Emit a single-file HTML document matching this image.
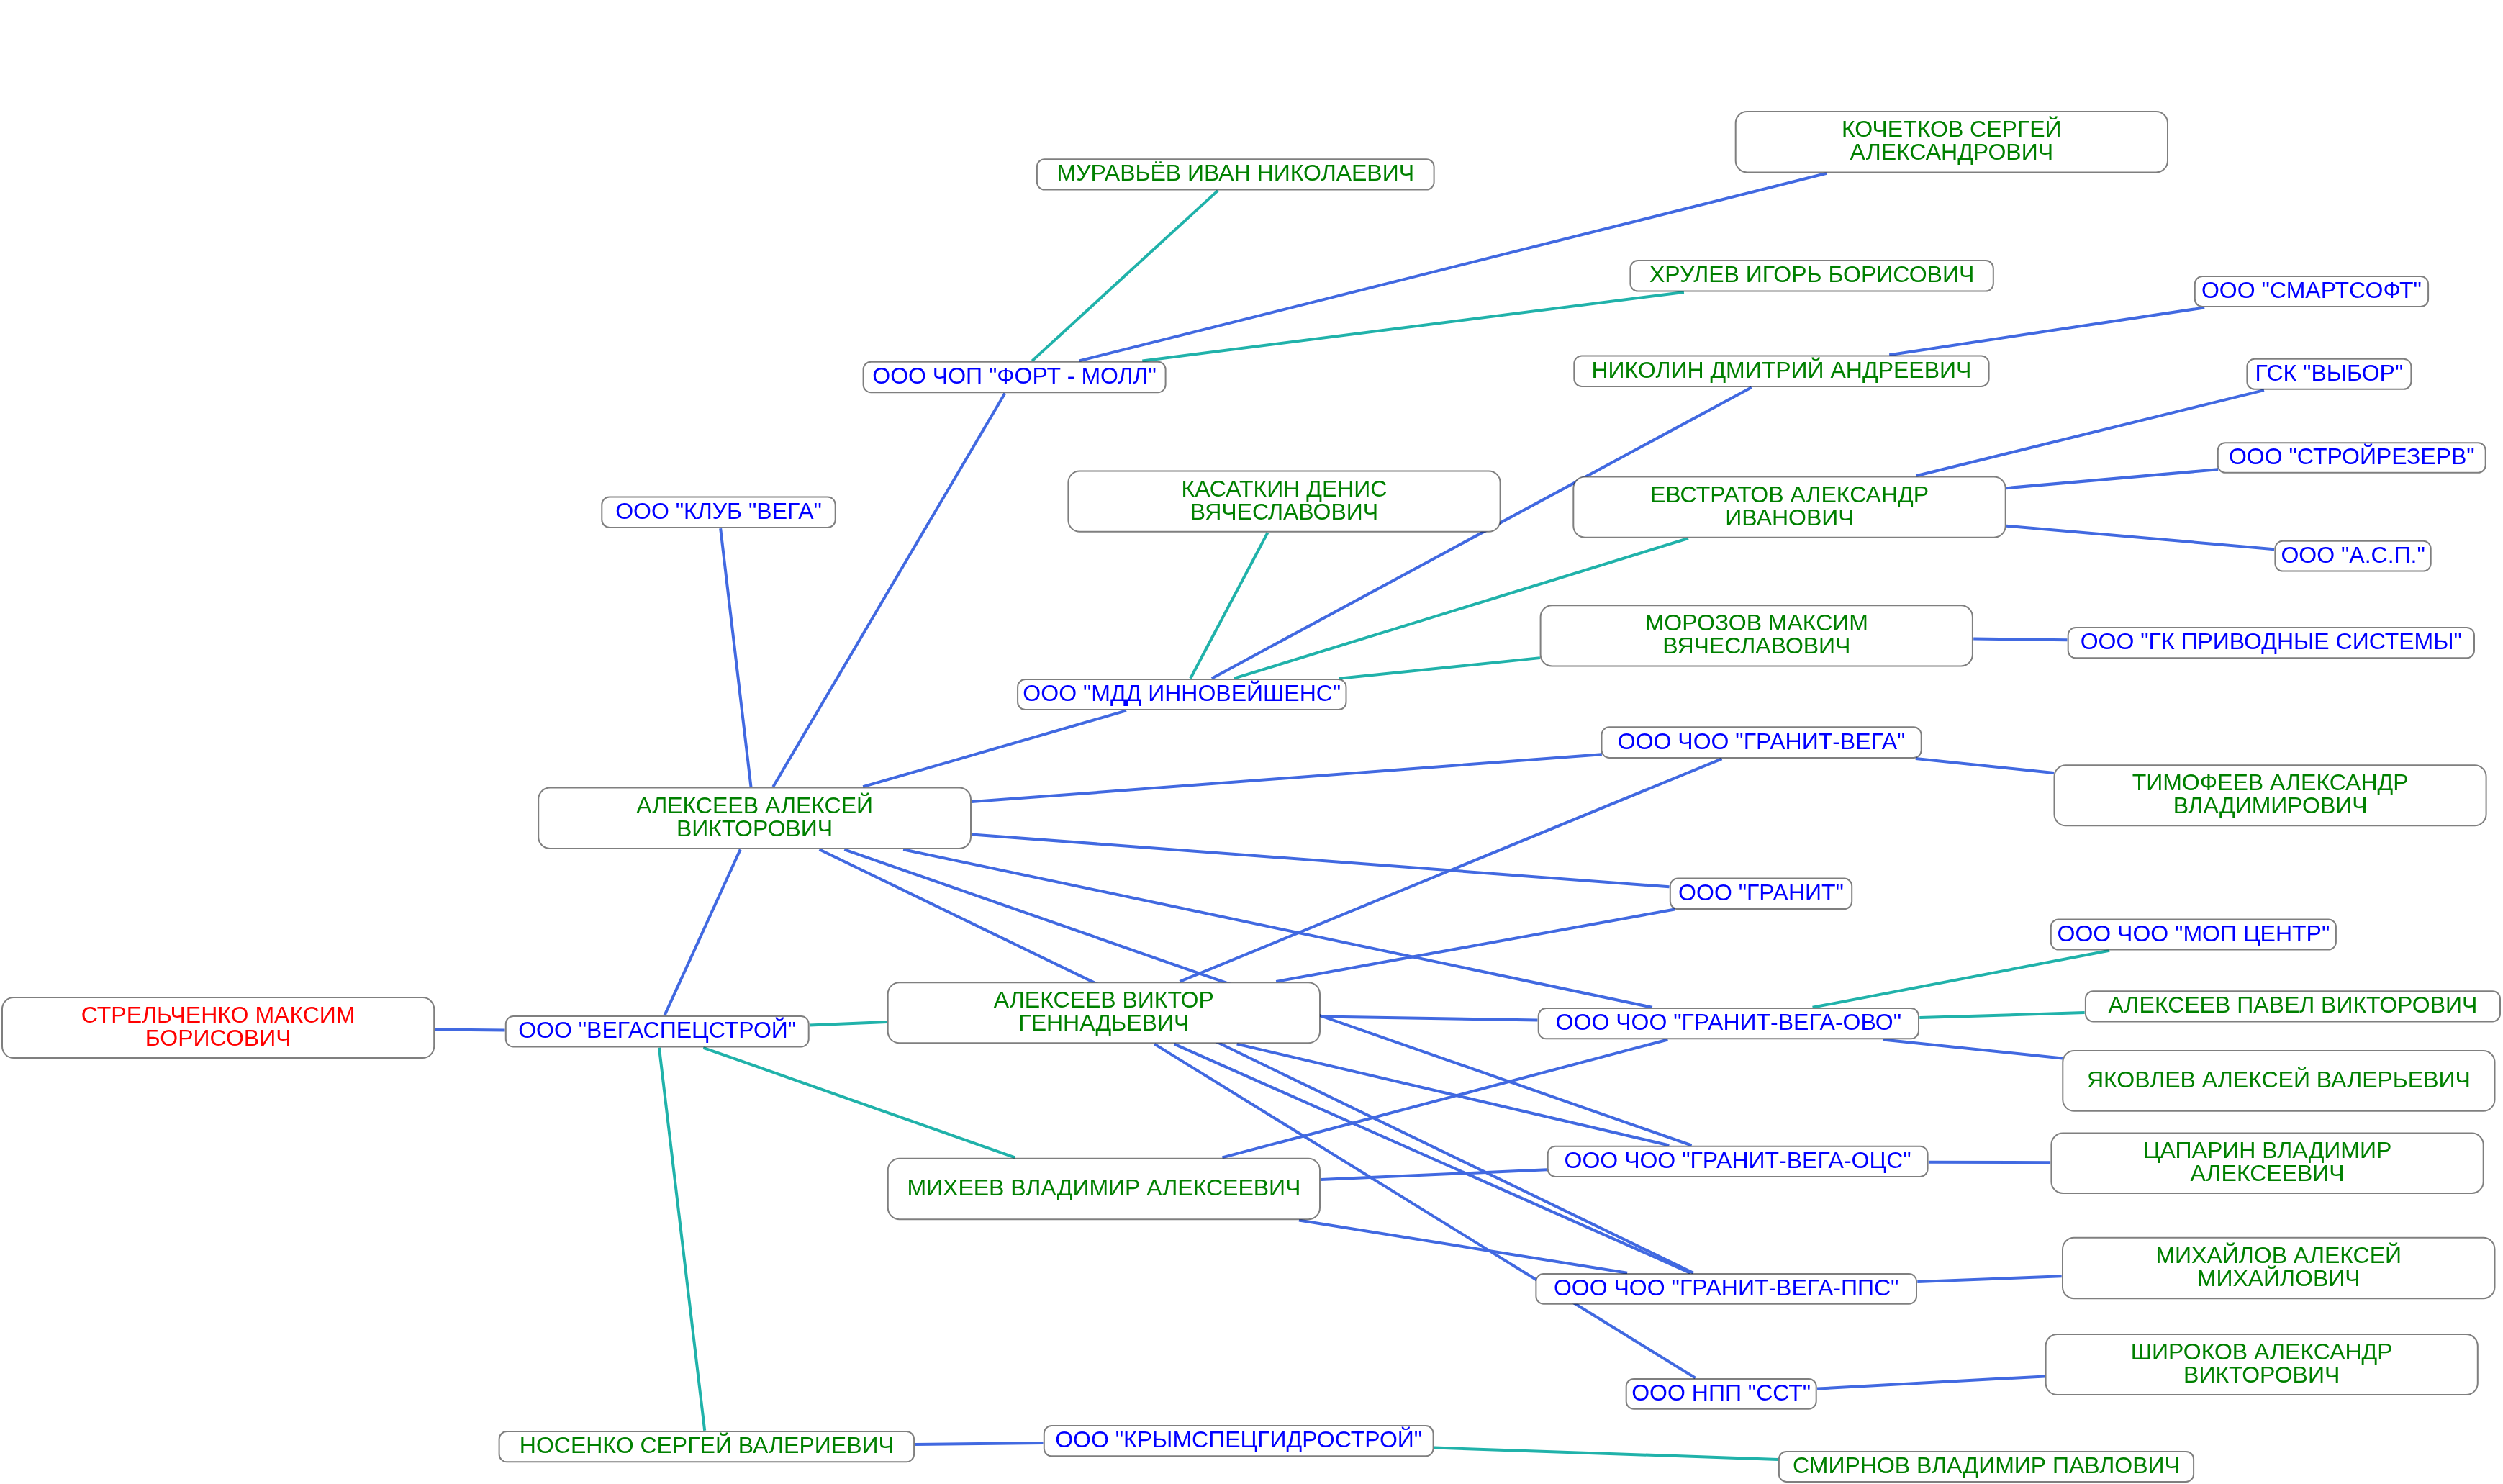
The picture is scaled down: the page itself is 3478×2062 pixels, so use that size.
<!DOCTYPE html><html><head><meta charset="utf-8"><style>html,body{margin:0;padding:0;background:#fff;overflow:hidden}svg{display:block;will-change:transform}text{font-family:"Liberation Sans",sans-serif;font-size:32px}</style></head><body>
<svg width="3478" height="2062" viewBox="0 0 3478 2062">
<rect width="3478" height="2062" fill="#fff"/>
<line x1="604.50" y1="1430.62" x2="701.50" y2="1431.45" stroke="#4169E1" stroke-width="4"/>
<line x1="923.54" y1="1410.70" x2="1028.72" y2="1180.30" stroke="#4169E1" stroke-width="4"/>
<line x1="1125.00" y1="1424.38" x2="1232.40" y2="1419.88" stroke="#20B2AA" stroke-width="4"/>
<line x1="977.24" y1="1455.80" x2="1410.31" y2="1608.40" stroke="#20B2AA" stroke-width="4"/>
<line x1="915.93" y1="1455.80" x2="979.19" y2="1987.80" stroke="#20B2AA" stroke-width="4"/>
<line x1="1271.40" y1="2007.04" x2="1449.50" y2="2005.12" stroke="#4169E1" stroke-width="4"/>
<line x1="1992.90" y1="2011.54" x2="2470.60" y2="2027.95" stroke="#20B2AA" stroke-width="4"/>
<line x1="1043.47" y1="1093.20" x2="1001.15" y2="734.20" stroke="#4169E1" stroke-width="4"/>
<line x1="1074.26" y1="1093.20" x2="1396.32" y2="546.50" stroke="#4169E1" stroke-width="4"/>
<line x1="1199.19" y1="1093.20" x2="1565.02" y2="987.40" stroke="#4169E1" stroke-width="4"/>
<line x1="1350.30" y1="1114.08" x2="2225.80" y2="1048.31" stroke="#4169E1" stroke-width="4"/>
<line x1="1350.30" y1="1159.42" x2="2319.50" y2="1232.27" stroke="#4169E1" stroke-width="4"/>
<line x1="1255.10" y1="1180.30" x2="2295.88" y2="1399.80" stroke="#4169E1" stroke-width="4"/>
<line x1="1173.29" y1="1180.30" x2="2350.66" y2="1591.50" stroke="#4169E1" stroke-width="4"/>
<line x1="1138.48" y1="1180.30" x2="2353.09" y2="1768.80" stroke="#4169E1" stroke-width="4"/>
<line x1="1434.20" y1="501.40" x2="1692.20" y2="264.90" stroke="#20B2AA" stroke-width="4"/>
<line x1="1499.49" y1="501.40" x2="2538.26" y2="240.80" stroke="#4169E1" stroke-width="4"/>
<line x1="1587.31" y1="501.40" x2="2339.89" y2="405.90" stroke="#20B2AA" stroke-width="4"/>
<line x1="1654.14" y1="942.70" x2="1761.46" y2="740.10" stroke="#20B2AA" stroke-width="4"/>
<line x1="1683.74" y1="942.70" x2="2433.73" y2="538.20" stroke="#4169E1" stroke-width="4"/>
<line x1="1714.76" y1="942.70" x2="2345.96" y2="748.00" stroke="#20B2AA" stroke-width="4"/>
<line x1="1860.58" y1="942.72" x2="2139.96" y2="914.13" stroke="#20B2AA" stroke-width="4"/>
<line x1="2625.21" y1="493.20" x2="3063.19" y2="427.40" stroke="#4169E1" stroke-width="4"/>
<line x1="2662.36" y1="661.30" x2="3145.93" y2="542.10" stroke="#4169E1" stroke-width="4"/>
<line x1="2787.99" y1="678.16" x2="3082.10" y2="652.31" stroke="#4169E1" stroke-width="4"/>
<line x1="2788.00" y1="730.83" x2="3160.10" y2="763.15" stroke="#4169E1" stroke-width="4"/>
<line x1="2742.20" y1="887.48" x2="2872.40" y2="889.27" stroke="#4169E1" stroke-width="4"/>
<line x1="2661.87" y1="1053.96" x2="2854.01" y2="1073.96" stroke="#4169E1" stroke-width="4"/>
<line x1="1639.31" y1="1363.90" x2="2392.50" y2="1054.30" stroke="#4169E1" stroke-width="4"/>
<line x1="1773.18" y1="1363.90" x2="2327.06" y2="1263.57" stroke="#4169E1" stroke-width="4"/>
<line x1="1835.30" y1="1412.42" x2="2136.40" y2="1417.59" stroke="#4169E1" stroke-width="4"/>
<line x1="1718.66" y1="1450.60" x2="2319.37" y2="1591.50" stroke="#4169E1" stroke-width="4"/>
<line x1="1631.57" y1="1450.60" x2="2348.88" y2="1768.80" stroke="#4169E1" stroke-width="4"/>
<line x1="1604.08" y1="1450.60" x2="2355.74" y2="1914.60" stroke="#4169E1" stroke-width="4"/>
<line x1="1698.39" y1="1608.40" x2="2317.43" y2="1444.50" stroke="#4169E1" stroke-width="4"/>
<line x1="1835.30" y1="1638.91" x2="2149.44" y2="1625.32" stroke="#4169E1" stroke-width="4"/>
<line x1="1804.95" y1="1695.50" x2="2261.15" y2="1768.80" stroke="#4169E1" stroke-width="4"/>
<line x1="2518.57" y1="1399.80" x2="2931.13" y2="1320.80" stroke="#20B2AA" stroke-width="4"/>
<line x1="2667.30" y1="1414.08" x2="2896.60" y2="1407.10" stroke="#20B2AA" stroke-width="4"/>
<line x1="2616.12" y1="1444.50" x2="2865.88" y2="1470.55" stroke="#4169E1" stroke-width="4"/>
<line x1="2679.90" y1="1614.72" x2="2849.10" y2="1615.27" stroke="#4169E1" stroke-width="4"/>
<line x1="2664.30" y1="1780.90" x2="2864.70" y2="1773.35" stroke="#4169E1" stroke-width="4"/>
<line x1="2525.00" y1="1929.57" x2="2841.30" y2="1912.40" stroke="#4169E1" stroke-width="4"/>
<rect x="3.0" y="1386.0" width="600.2" height="84.1" rx="16.00" fill="#fff" stroke="rgba(0,0,0,0.5)" stroke-width="2"/>
<text x="303.1" y="1421.0" fill="#FF0000" text-anchor="middle">СТРЕЛЬЧЕНКО МАКСИМ</text>
<text x="303.1" y="1453.0" fill="#FF0000" text-anchor="middle">БОРИСОВИЧ</text>
<rect x="702.8" y="1412.0" width="420.9" height="42.5" rx="10.62" fill="#fff" stroke="rgba(0,0,0,0.5)" stroke-width="2"/>
<text x="913.2" y="1442.2" fill="#0000FF" text-anchor="middle">ООО &quot;ВЕГАСПЕЦСТРОЙ&quot;</text>
<rect x="693.6" y="1989.1" width="576.5" height="42.1" rx="10.53" fill="#fff" stroke="rgba(0,0,0,0.5)" stroke-width="2"/>
<text x="981.8" y="2019.2" fill="#008000" text-anchor="middle">НОСЕНКО СЕРГЕЙ ВАЛЕРИЕВИЧ</text>
<rect x="1450.8" y="1981.1" width="540.8" height="42.2" rx="10.55" fill="#fff" stroke="rgba(0,0,0,0.5)" stroke-width="2"/>
<text x="1721.2" y="2011.2" fill="#0000FF" text-anchor="middle">ООО &quot;КРЫМСПЕЦГИДРОСТРОЙ&quot;</text>
<rect x="2471.9" y="2016.9" width="576.2" height="42.0" rx="10.50" fill="#fff" stroke="rgba(0,0,0,0.5)" stroke-width="2"/>
<text x="2760.0" y="2046.9" fill="#008000" text-anchor="middle">СМИРНОВ ВЛАДИМИР ПАВЛОВИЧ</text>
<rect x="748.2" y="1094.5" width="600.8" height="84.5" rx="16.00" fill="#fff" stroke="rgba(0,0,0,0.5)" stroke-width="2"/>
<text x="1048.6" y="1129.8" fill="#008000" text-anchor="middle">АЛЕКСЕЕВ АЛЕКСЕЙ</text>
<text x="1048.6" y="1161.8" fill="#008000" text-anchor="middle">ВИКТОРОВИЧ</text>
<rect x="836.3" y="690.5" width="324.4" height="42.4" rx="10.60" fill="#fff" stroke="rgba(0,0,0,0.5)" stroke-width="2"/>
<text x="998.5" y="720.7" fill="#0000FF" text-anchor="middle">ООО &quot;КЛУБ &quot;ВЕГА&quot;</text>
<rect x="1199.6" y="502.7" width="420.0" height="42.5" rx="10.63" fill="#fff" stroke="rgba(0,0,0,0.5)" stroke-width="2"/>
<text x="1409.6" y="533.0" fill="#0000FF" text-anchor="middle">ООО ЧОП &quot;ФОРТ - МОЛЛ&quot;</text>
<rect x="1440.9" y="221.2" width="551.7" height="42.4" rx="10.60" fill="#fff" stroke="rgba(0,0,0,0.5)" stroke-width="2"/>
<text x="1716.8" y="251.4" fill="#008000" text-anchor="middle">МУРАВЬЁВ ИВАН НИКОЛАЕВИЧ</text>
<rect x="2411.7" y="155.0" width="600.3" height="84.5" rx="16.00" fill="#fff" stroke="rgba(0,0,0,0.5)" stroke-width="2"/>
<text x="2711.8" y="190.2" fill="#008000" text-anchor="middle">КОЧЕТКОВ СЕРГЕЙ</text>
<text x="2711.8" y="222.2" fill="#008000" text-anchor="middle">АЛЕКСАНДРОВИЧ</text>
<rect x="2265.4" y="362.1" width="504.4" height="42.5" rx="10.62" fill="#fff" stroke="rgba(0,0,0,0.5)" stroke-width="2"/>
<text x="2517.6" y="392.4" fill="#008000" text-anchor="middle">ХРУЛЕВ ИГОРЬ БОРИСОВИЧ</text>
<rect x="3049.8" y="384.0" width="324.3" height="42.1" rx="10.53" fill="#fff" stroke="rgba(0,0,0,0.5)" stroke-width="2"/>
<text x="3211.9" y="414.1" fill="#0000FF" text-anchor="middle">ООО &quot;СМАРТСОФТ&quot;</text>
<rect x="2187.3" y="494.5" width="576.3" height="42.4" rx="10.60" fill="#fff" stroke="rgba(0,0,0,0.5)" stroke-width="2"/>
<text x="2475.4" y="524.7" fill="#008000" text-anchor="middle">НИКОЛИН ДМИТРИЙ АНДРЕЕВИЧ</text>
<rect x="3122.4" y="498.8" width="228.0" height="42.0" rx="10.50" fill="#fff" stroke="rgba(0,0,0,0.5)" stroke-width="2"/>
<text x="3236.4" y="528.8" fill="#0000FF" text-anchor="middle">ГСК &quot;ВЫБОР&quot;</text>
<rect x="1484.4" y="654.4" width="600.2" height="84.4" rx="16.00" fill="#fff" stroke="rgba(0,0,0,0.5)" stroke-width="2"/>
<text x="1784.5" y="689.6" fill="#008000" text-anchor="middle">КАСАТКИН ДЕНИС</text>
<text x="1784.5" y="721.6" fill="#008000" text-anchor="middle">ВЯЧЕСЛАВОВИЧ</text>
<rect x="2186.3" y="662.6" width="600.4" height="84.1" rx="16.00" fill="#fff" stroke="rgba(0,0,0,0.5)" stroke-width="2"/>
<text x="2486.5" y="697.7" fill="#008000" text-anchor="middle">ЕВСТРАТОВ АЛЕКСАНДР</text>
<text x="2486.5" y="729.7" fill="#008000" text-anchor="middle">ИВАНОВИЧ</text>
<rect x="3081.8" y="615.2" width="371.9" height="41.6" rx="10.40" fill="#fff" stroke="rgba(0,0,0,0.5)" stroke-width="2"/>
<text x="3267.8" y="645.0" fill="#0000FF" text-anchor="middle">ООО &quot;СТРОЙРЕЗЕРВ&quot;</text>
<rect x="3161.4" y="751.8" width="216.3" height="41.7" rx="10.43" fill="#fff" stroke="rgba(0,0,0,0.5)" stroke-width="2"/>
<text x="3269.6" y="781.6" fill="#0000FF" text-anchor="middle">ООО &quot;А.С.П.&quot;</text>
<rect x="2140.6" y="841.3" width="600.3" height="84.1" rx="16.00" fill="#fff" stroke="rgba(0,0,0,0.5)" stroke-width="2"/>
<text x="2440.8" y="876.3" fill="#008000" text-anchor="middle">МОРОЗОВ МАКСИМ</text>
<text x="2440.8" y="908.3" fill="#008000" text-anchor="middle">ВЯЧЕСЛАВОВИЧ</text>
<rect x="2873.7" y="872.0" width="564.3" height="42.3" rx="10.57" fill="#fff" stroke="rgba(0,0,0,0.5)" stroke-width="2"/>
<text x="3155.8" y="902.1" fill="#0000FF" text-anchor="middle">ООО &quot;ГК ПРИВОДНЫЕ СИСТЕМЫ&quot;</text>
<rect x="1414.1" y="944.0" width="456.4" height="42.1" rx="10.53" fill="#fff" stroke="rgba(0,0,0,0.5)" stroke-width="2"/>
<text x="1642.3" y="974.0" fill="#0000FF" text-anchor="middle">ООО &quot;МДД ИННОВЕЙШЕНС&quot;</text>
<rect x="2225.5" y="1010.3" width="444.2" height="42.7" rx="10.68" fill="#fff" stroke="rgba(0,0,0,0.5)" stroke-width="2"/>
<text x="2447.6" y="1040.7" fill="#0000FF" text-anchor="middle">ООО ЧОО &quot;ГРАНИТ-ВЕГА&quot;</text>
<rect x="2854.5" y="1063.2" width="600.1" height="84.1" rx="16.00" fill="#fff" stroke="rgba(0,0,0,0.5)" stroke-width="2"/>
<text x="3154.6" y="1098.2" fill="#008000" text-anchor="middle">ТИМОФЕЕВ АЛЕКСАНДР</text>
<text x="3154.6" y="1130.2" fill="#008000" text-anchor="middle">ВЛАДИМИРОВИЧ</text>
<rect x="2320.8" y="1220.6" width="252.4" height="42.5" rx="10.62" fill="#fff" stroke="rgba(0,0,0,0.5)" stroke-width="2"/>
<text x="2447.0" y="1250.8" fill="#0000FF" text-anchor="middle">ООО &quot;ГРАНИТ&quot;</text>
<rect x="2849.8" y="1277.4" width="396.1" height="42.1" rx="10.52" fill="#fff" stroke="rgba(0,0,0,0.5)" stroke-width="2"/>
<text x="3047.9" y="1307.5" fill="#0000FF" text-anchor="middle">ООО ЧОО &quot;МОП ЦЕНТР&quot;</text>
<rect x="1233.7" y="1365.2" width="600.3" height="84.1" rx="16.00" fill="#fff" stroke="rgba(0,0,0,0.5)" stroke-width="2"/>
<text x="1533.8" y="1400.2" fill="#008000" text-anchor="middle">АЛЕКСЕЕВ ВИКТОР</text>
<text x="1533.8" y="1432.2" fill="#008000" text-anchor="middle">ГЕННАДЬЕВИЧ</text>
<rect x="2137.7" y="1401.1" width="528.3" height="42.1" rx="10.53" fill="#fff" stroke="rgba(0,0,0,0.5)" stroke-width="2"/>
<text x="2401.8" y="1431.2" fill="#0000FF" text-anchor="middle">ООО ЧОО &quot;ГРАНИТ-ВЕГА-ОВО&quot;</text>
<rect x="2897.9" y="1377.2" width="576.1" height="42.2" rx="10.55" fill="#fff" stroke="rgba(0,0,0,0.5)" stroke-width="2"/>
<text x="3185.9" y="1407.3" fill="#008000" text-anchor="middle">АЛЕКСЕЕВ ПАВЕЛ ВИКТОРОВИЧ</text>
<rect x="2866.3" y="1460.0" width="600.2" height="83.8" rx="16.00" fill="#fff" stroke="rgba(0,0,0,0.5)" stroke-width="2"/>
<text x="3166.4" y="1510.9" fill="#008000" text-anchor="middle">ЯКОВЛЕВ АЛЕКСЕЙ ВАЛЕРЬЕВИЧ</text>
<rect x="1233.8" y="1609.7" width="600.2" height="84.5" rx="16.00" fill="#fff" stroke="rgba(0,0,0,0.5)" stroke-width="2"/>
<text x="1533.9" y="1661.0" fill="#008000" text-anchor="middle">МИХЕЕВ ВЛАДИМИР АЛЕКСЕЕВИЧ</text>
<rect x="2150.7" y="1592.8" width="527.9" height="42.1" rx="10.53" fill="#fff" stroke="rgba(0,0,0,0.5)" stroke-width="2"/>
<text x="2414.6" y="1622.8" fill="#0000FF" text-anchor="middle">ООО ЧОО &quot;ГРАНИТ-ВЕГА-ОЦС&quot;</text>
<rect x="2850.4" y="1574.5" width="600.3" height="83.5" rx="16.00" fill="#fff" stroke="rgba(0,0,0,0.5)" stroke-width="2"/>
<text x="3150.6" y="1609.2" fill="#008000" text-anchor="middle">ЦАПАРИН ВЛАДИМИР</text>
<text x="3150.6" y="1641.2" fill="#008000" text-anchor="middle">АЛЕКСЕЕВИЧ</text>
<rect x="2134.4" y="1770.1" width="528.6" height="41.6" rx="10.40" fill="#fff" stroke="rgba(0,0,0,0.5)" stroke-width="2"/>
<text x="2398.7" y="1799.9" fill="#0000FF" text-anchor="middle">ООО ЧОО &quot;ГРАНИТ-ВЕГА-ППС&quot;</text>
<rect x="2866.0" y="1719.8" width="600.5" height="84.4" rx="16.00" fill="#fff" stroke="rgba(0,0,0,0.5)" stroke-width="2"/>
<text x="3166.2" y="1755.0" fill="#008000" text-anchor="middle">МИХАЙЛОВ АЛЕКСЕЙ</text>
<text x="3166.2" y="1787.0" fill="#008000" text-anchor="middle">МИХАЙЛОВИЧ</text>
<rect x="2259.7" y="1915.9" width="264.0" height="41.8" rx="10.45" fill="#fff" stroke="rgba(0,0,0,0.5)" stroke-width="2"/>
<text x="2391.7" y="1945.8" fill="#0000FF" text-anchor="middle">ООО НПП &quot;ССТ&quot;</text>
<rect x="2842.6" y="1854.0" width="600.2" height="84.1" rx="16.00" fill="#fff" stroke="rgba(0,0,0,0.5)" stroke-width="2"/>
<text x="3142.7" y="1889.0" fill="#008000" text-anchor="middle">ШИРОКОВ АЛЕКСАНДР</text>
<text x="3142.7" y="1921.0" fill="#008000" text-anchor="middle">ВИКТОРОВИЧ</text>
</svg></body></html>
